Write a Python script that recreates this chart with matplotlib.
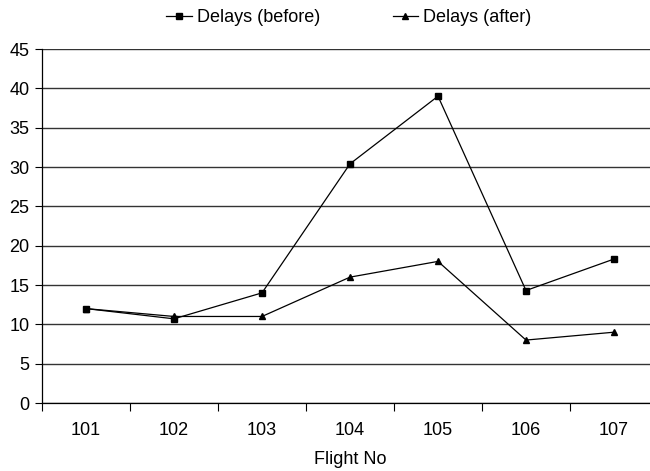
import matplotlib.pyplot as plt
import numpy as np

flights = ["101", "102", "103", "104", "105", "106", "107"]
delays_before = [12, 10.7, 14, 30.4, 39, 14.3, 18.3]
delays_after = [12, 11, 11, 16, 18, 8, 9]
y_ticks = [0, 5, 10, 15, 20, 25, 30, 35, 40, 45]

plt.rcParams['font.family'] = ['Liberation Sans', 'DejaVu Sans']

fig = plt.figure(figsize=(6.5, 4.71), dpi=100)
ax = fig.add_axes([42 / 650, 68 / 471, 616 / 650, 354 / 471])

x = np.arange(len(flights))
ax.plot(x, delays_before, color="black", lw=0.9, marker="s", markersize=5,
        label="Delays (before)")
ax.plot(x, delays_after, color="black", lw=0.9, marker="^", markersize=5,
        label="Delays (after)")

ax.set_xlim(-0.5, len(flights) - 0.5)
ax.set_ylim(0, 45)
ax.set_yticks(y_ticks)
ax.yaxis.grid(True, color="#333333", lw=1.0)
ax.set_axisbelow(True)

# category labels centered, tick marks between categories
ax.set_xticks(np.arange(-0.5, len(flights), 1.0))
ax.set_xticklabels([])
ax.set_xticks(x, minor=True)
ax.set_xticklabels(flights, minor=True)
ax.tick_params(axis="x", which="major", length=6, direction="out", width=0.8)
ax.tick_params(axis="x", which="minor", length=0, labelsize=13, pad=14)
ax.tick_params(axis="y", length=5, width=0.8, direction="out", labelsize=13, pad=4)

for s in ["top", "right"]:
    ax.spines[s].set_visible(False)
ax.spines["left"].set_linewidth(0.9)
ax.spines["bottom"].set_linewidth(0.9)

ax.set_xlabel("Flight No", fontsize=13, labelpad=8)

fig.legend(loc="center", bbox_to_anchor=(0.537, 1 - 18 / 471), ncol=2,
           frameon=False, fontsize=13, handlelength=1.4, handletextpad=0.3,
           columnspacing=4.0, borderpad=0)

fig.savefig("out.png", dpi=100)
